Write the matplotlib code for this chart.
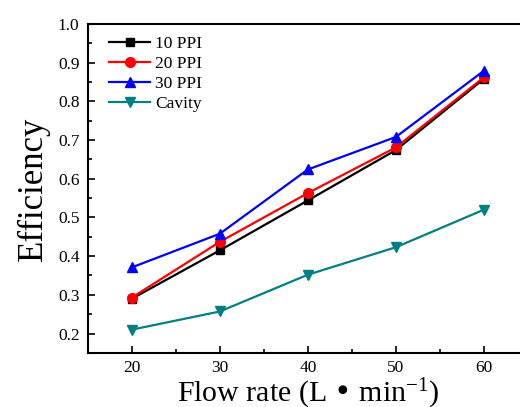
import matplotlib.pyplot as plt
from matplotlib.ticker import MultipleLocator

# data
flow = [20, 30, 40, 50, 60]
ppi10 = [0.290, 0.415, 0.544, 0.674, 0.858]
ppi20 = [0.293, 0.437, 0.563, 0.681, 0.862]
ppi30 = [0.371, 0.458, 0.624, 0.708, 0.879]
cavity = [0.210, 0.257, 0.352, 0.423, 0.520]

plt.rcParams['font.family'] = ['Liberation Serif', 'DejaVu Serif']
plt.rcParams['mathtext.default'] = 'regular'

fig = plt.figure(figsize=(5.2, 4.07), dpi=100)
ax = fig.add_axes([0.169, 0.133, 0.846, 0.808])

ax.plot(flow, ppi10, '-s', color='black', lw=1.6, ms=6, label='10 PPI')
ax.plot(flow, ppi20, '-o', color='red', lw=1.6, ms=7, label='20 PPI')
ax.plot(flow, ppi30, '-^', color='blue', lw=1.6, ms=7, label='30 PPI')
ax.plot(flow, cavity, '-v', color='#008080', lw=1.6, ms=7, label='Cavity')

ax.set_xlim(15, 65)
ax.set_ylim(0.15, 1.0)
ax.xaxis.set_major_locator(MultipleLocator(10))
ax.xaxis.set_minor_locator(MultipleLocator(5))
ax.yaxis.set_minor_locator(MultipleLocator(0.05))
ax.set_yticks([0.2, 0.3, 0.4, 0.5, 0.6, 0.7, 0.8, 0.9, 1.0])
ax.set_yticklabels(['0.2', '0.3', '0.4', '0.5', '0.6', '0.7', '0.8', '0.9', '1.0'])

ax.tick_params(which='both', direction='in', labelsize=12.5, width=1.2)
ax.tick_params(which='major', length=5, pad=6)
ax.tick_params(axis='x', which='major', pad=5)
ax.tick_params(which='minor', length=3)
for s in ax.spines.values():
    s.set_linewidth(1.5)

ax.set_xlabel('Flow rate (L \u2022 min$^{-1}$)', fontsize=21.5)
ax.xaxis.set_label_coords(0.5, -0.15, transform=ax.transAxes)
ax.xaxis.label.set_va('baseline')
ax.set_ylabel('Efficiency', fontsize=25, labelpad=6)

ax.legend(loc='upper left', frameon=False, fontsize=12.5, handlelength=2.4,
          handletextpad=0.25, labelspacing=0.22, borderaxespad=0.3,
          bbox_to_anchor=(0.02, 1.0))

fig.savefig('out.png', dpi=100)
